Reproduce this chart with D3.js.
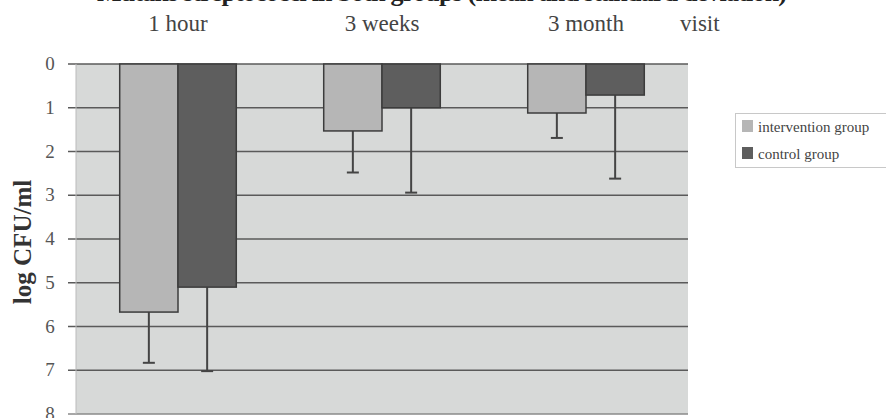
<!DOCTYPE html>
<html>
<head>
<meta charset="utf-8">
<script src="https://cdn.jsdelivr.net/npm/d3@7"></script>
<style>
  body { margin: 0; background: #fff; }
  svg { display: block; }
</style>
</head>
<body>
<svg id="chart" width="886" height="418"></svg>
<script>
// data
var categories = ["1 hour", "3 weeks", "3 month"];
var groups = ["intervention group", "control group"];
var interventionMean = [5.67, 1.53, 1.12];
var interventionSD = [1.16, 0.95, 0.57];
var controlMean = [5.1, 1.0, 0.71];
var controlSD = [1.92, 1.94, 1.91];
var yTicks = [0, 1, 2, 3, 4, 5, 6, 7, 8];

var svg = d3.select("#chart");
var plotLeft = 76, plotRight = 688, plotTop = 64, plotBottom = 414;

var x = d3.scaleBand().domain(categories).range([plotLeft, plotRight]).paddingInner(0).paddingOuter(0);
var barW = x.bandwidth() / 3.5; // gap width 150%
var xg = d3.scaleBand().domain(groups).range([0, barW * 2]);
var y = d3.scaleLinear().domain([0, 8]).range([plotTop, plotBottom]);

var fills = { "intervention group": "#b6b6b6", "control group": "#5e5e5e" };

// title (cut off at the top in the original)
svg.append("text")
	.attr("x", 442).attr("y", 1)
	.attr("text-anchor", "middle")
	.attr("textLength", 690)
	.style("font-family", "Liberation Serif, serif")
	.style("font-weight", "bold")
	.style("font-size", "26px")
	.style("fill", "#222")
	.text("Mutans streptococci in both groups (mean and standard deviation)");

// plot background
svg.append("rect")
	.attr("x", plotLeft).attr("y", plotTop)
	.attr("width", plotRight - plotLeft).attr("height", plotBottom - plotTop)
	.attr("fill", "#d7d9d8");

// grid lines + ticks
var grid = svg.append("g");
yTicks.forEach(function(t) {
	grid.append("line")
		.attr("x1", plotLeft - 8).attr("x2", plotRight)
		.attr("y1", y(t)).attr("y2", y(t))
		.style("stroke", t == 8 ? "#8a8a8a" : "#5a5a5a")
		.style("stroke-width", "1.5px");
	grid.append("text")
		.attr("x", 50).attr("y", y(t) + 6)
		.attr("text-anchor", "middle")
		.style("font-family", "Liberation Serif, serif")
		.style("font-size", "19px")
		.style("fill", "#555")
		.text(t);
});
// left axis line
svg.append("line")
	.attr("x1", plotLeft).attr("x2", plotLeft).attr("y1", plotTop).attr("y2", plotBottom)
	.style("stroke", "#bbb").style("stroke-width", "1px");

// bars
var rows = [];
categories.forEach(function(c, i) {
	rows.push({ cat: c, grp: groups[0], mean: interventionMean[i], sd: interventionSD[i] });
	rows.push({ cat: c, grp: groups[1], mean: controlMean[i], sd: controlSD[i] });
});

var bars = svg.append("g");
rows.forEach(function(d) {
	var bx = x(d.cat) + (x.bandwidth() - barW * 2) / 2 + xg(d.grp);
	// error bar
	var cx = bx + barW / 2;
	bars.append("line")
		.attr("x1", cx).attr("x2", cx)
		.attr("y1", y(d.mean)).attr("y2", y(d.mean + d.sd))
		.style("stroke", "#444").style("stroke-width", "2px");
	bars.append("line")
		.attr("x1", cx - 6).attr("x2", cx + 6)
		.attr("y1", y(d.mean + d.sd)).attr("y2", y(d.mean + d.sd))
		.style("stroke", "#444").style("stroke-width", "2px");
	bars.append("rect")
		.attr("x", bx).attr("y", y(0))
		.attr("width", barW).attr("height", y(d.mean) - y(0))
		.attr("fill", fills[d.grp])
		.style("stroke", "#3c3c3c").style("stroke-width", "1.5px");
});

// category labels on top
var labels = svg.append("g")
	.style("font-family", "Liberation Serif, serif")
	.style("font-size", "23px")
	.style("fill", "#444");
categories.forEach(function(c) {
	labels.append("text")
		.attr("x", x(c) + x.bandwidth() / 2).attr("y", 31)
		.attr("text-anchor", "middle")
		.text(c);
});
labels.append("text")
	.attr("x", 680).attr("y", 31)
	.text("visit");

// y axis title
svg.append("text")
	.attr("transform", "translate(31,242) rotate(-90)")
	.attr("text-anchor", "middle")
	.style("font-family", "Liberation Serif, serif")
	.style("font-weight", "bold")
	.style("font-size", "25px")
	.style("fill", "#333")
	.text("log CFU/ml");

// legend
var lg = svg.append("g");
lg.append("rect")
	.attr("x", 735.5).attr("y", 113.5)
	.attr("width", 160).attr("height", 54)
	.attr("fill", "#fff")
	.style("stroke", "#c8c8c8").style("stroke-width", "1px");
groups.forEach(function(g, i) {
	lg.append("rect")
		.attr("x", 742).attr("y", 120 + i * 27)
		.attr("width", 11).attr("height", 12)
		.attr("fill", fills[g]);
	lg.append("text")
		.attr("x", 758).attr("y", 132 + i * 27)
		.style("font-family", "Liberation Serif, serif")
		.style("font-size", "15px")
		.style("fill", "#444")
		.text(g);
});
</script>
</body>
</html>
